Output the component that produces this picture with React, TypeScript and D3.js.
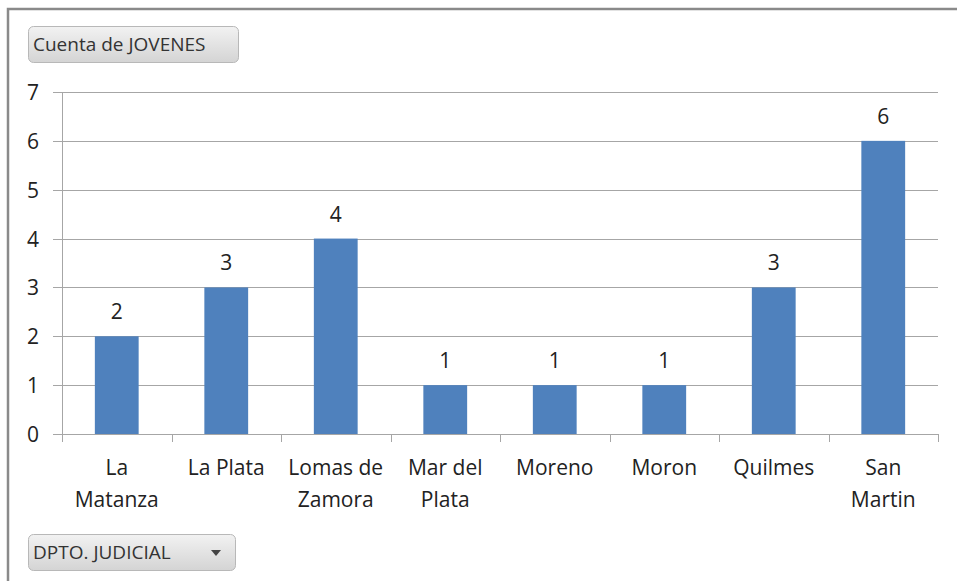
import React, { useEffect, useRef } from 'react';
import * as d3 from 'd3';

const width = 957;
const height = 581;
const margin = { top: 92, right: 19, bottom: 147, left: 62 };
const barColor = '#4f81bd';
const gridColor = '#a6a6a6';
const font = '"Open Sans", "Noto Sans", sans-serif';

// data
const categories = ['La Matanza', 'La Plata', 'Lomas de Zamora', 'Mar del Plata', 'Moreno', 'Moron', 'Quilmes', 'San Martin'];
const labelLines = [['La', 'Matanza'], ['La Plata'], ['Lomas de', 'Zamora'], ['Mar del', 'Plata'], ['Moreno'], ['Moron'], ['Quilmes'], ['San', 'Martin']];
const counts = [2, 3, 4, 1, 1, 1, 3, 6];
const yTicks = [0, 1, 2, 3, 4, 5, 6, 7];

const xScale = d3.scaleBand().domain(categories).range([margin.left, width - margin.right]).paddingInner(0.6).paddingOuter(0.3);
const yScale = d3.scaleLinear().domain([0, 7]).range([height - margin.bottom, margin.top]);

function Button({ x, y, w, label, arrow }: { x: number; y: number; w: number; label: string; arrow?: boolean }) {
  return (
    <g transform={`translate(${x},${y})`}>
      <rect x={0.5} y={0.5} width={w} height={36} rx={5} fill="url(#btnGrad)" stroke="#b8b8b8" />
      <text x={5} y={25} fontSize={19} fontFamily={font} fill="#333">{label}</text>
      {arrow && <path d={`M${w - 24},16 L${w - 14},16 L${w - 19},22 Z`} fill="#444" />}
    </g>
  );
}

export default function App() {
  const xAxisRef = useRef<SVGGElement>(null);
  const yAxisRef = useRef<SVGGElement>(null);

  useEffect(() => {
    const x0 = margin.left;
    const xa = d3.select(xAxisRef.current);
    xa.selectAll('*').remove();
    xa.append('line').attr('x1', x0).attr('x2', width - margin.right).attr('y1', 0.5).attr('y2', 0.5).attr('stroke', gridColor);
    d3.range(categories.length + 1).forEach(i => {
      const x = Math.round(x0 + i * ((width - margin.right - x0) / categories.length)) + 0.5;
      xa.append('line').attr('x1', x).attr('x2', x).attr('y1', 0).attr('y2', 8).attr('stroke', gridColor);
    });
    labelLines.forEach((lines, i) => {
      const cx = xScale(categories[i])! + xScale.bandwidth() / 2;
      const t = xa.append('text').attr('text-anchor', 'middle').attr('font-size', 21).attr('font-family', font).attr('fill', '#222');
      lines.forEach((l, j) => t.append('tspan').attr('x', cx).attr('y', 41 + j * 32).text(l));
    });

    const ya = d3.select(yAxisRef.current);
    ya.selectAll('*').remove();
    ya.append('line').attr('x1', 0.5).attr('x2', 0.5).attr('y1', margin.top).attr('y2', height - margin.bottom).attr('stroke', gridColor);
    yTicks.forEach(t => {
      const y = Math.round(yScale(t)) + 0.5;
      ya.append('line').attr('x1', -9).attr('x2', 0).attr('y1', y).attr('y2', y).attr('stroke', gridColor);
      ya.append('text').attr('x', -23).attr('y', y + 7).attr('text-anchor', 'end').attr('font-size', 21).attr('font-family', font).attr('fill', '#222').text(t);
    });
  }, []);

  return (
    <svg width={width} height={height} style={{ position: 'absolute', left: 0, top: 0, background: '#fff' }}>
      <defs>
        <linearGradient id="btnGrad" x1="0" y1="0" x2="0" y2="1">
          <stop offset="0" stopColor="#f2f2f2" />
          <stop offset="1" stopColor="#d4d4d4" />
        </linearGradient>
      </defs>
      <path d={`M8,${height} L8,9 L${width},9`} fill="none" stroke="#8a8a8a" strokeWidth={2.5} />
      {yTicks.filter(t => t > 0).map(t => (
        <line key={t} x1={margin.left} x2={width - margin.right} y1={Math.round(yScale(t)) + 0.5} y2={Math.round(yScale(t)) + 0.5} stroke={gridColor} />
      ))}
      {counts.map((v, i) => (
        <rect key={i} x={xScale(categories[i])} y={yScale(v)} width={xScale.bandwidth()} height={yScale(0) - yScale(v)} fill={barColor} />
      ))}
      {counts.map((v, i) => (
        <text key={i} x={xScale(categories[i])! + xScale.bandwidth() / 2} y={yScale(v) - 17} textAnchor="middle" fontSize={21} fontFamily={font} fill="#222">{v}</text>
      ))}
      <g ref={xAxisRef} transform={`translate(0,${Math.round(yScale(0))})`} />
      <g ref={yAxisRef} transform={`translate(${margin.left},0)`} />
      <Button x={28} y={26} w={210} label="Cuenta de JOVENES" />
      <Button x={28} y={534} w={207} label="DPTO. JUDICIAL" arrow />
    </svg>
  );
}
